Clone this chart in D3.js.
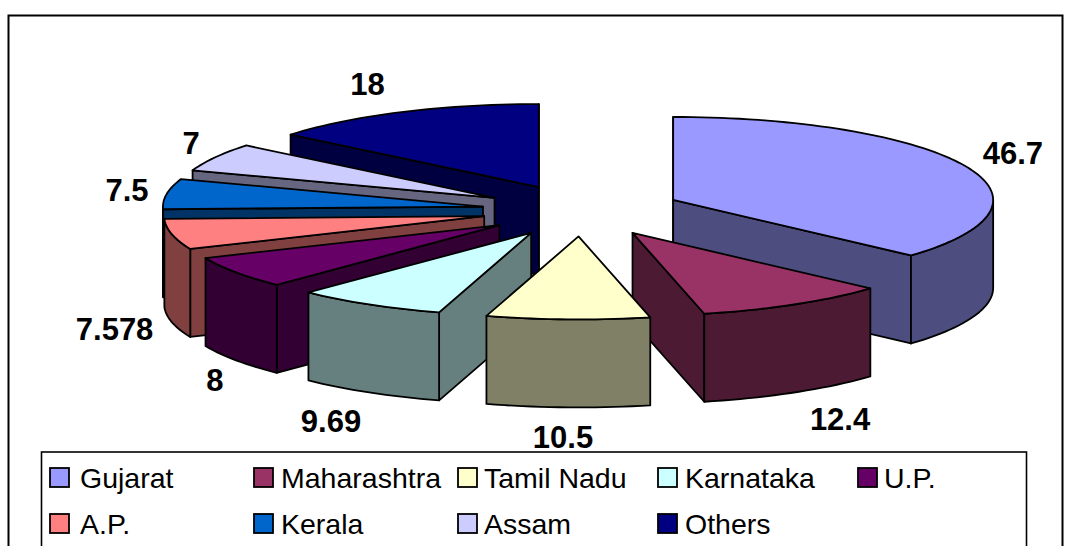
<!DOCTYPE html>
<html><head><meta charset="utf-8">
<script src="https://cdn.jsdelivr.net/npm/d3@7"></script>
<style>html,body{margin:0;padding:0;background:#fff;overflow:hidden}svg{display:block}text{font-family:"Liberation Sans",Arial,sans-serif;fill:#000}</style>
</head><body><svg id="c" width="1074" height="546"></svg>
<script>
const categories=["Gujarat","Maharashtra","Tamil Nadu","Karnataka","U.P.","A.P.","Kerala","Assam","Others"];
const values=[46.7,12.4,10.5,9.69,8,7.578,7.5,7,18];
const valueLabels=["46.7","12.4","10.5","9.69","8","7.578","7.5","7","18"];
const topColors=["#9999FF","#993366","#FFFFCC","#CCFFFF","#660066","#FF8080","#0066CC","#CCCCFF","#000080"];
const wallColors=["#4D4D80","#4D1A33","#808066","#668080","#330033","#804040","#003366","#666680","#000040"];
const drawOrder=[8,7,6,0,5,4,1,3,2];
const labelNudges=[[20,4],[30,27.5],[-4,28.5],[-23,29.5],[3.5,24.5],[-28,16.5],[-10,10],[2,3.5],[-21,-4.5]];
const legendCols=[50,254,458,658,858], legendRows=[468,514], legendTextCols=[80,281,484,685,884];

const cx=581.8,cy=210.5,rx=320,ry=83,depth=88,explode=100,tilt=ry/rx;
const svg=d3.select("#c");
svg.append("rect").attr("x",8.5).attr("y",15.5).attr("width",1054).attr("height",560).attr("fill","#fff").attr("stroke","#000").attr("stroke-width",2);

const arcs=d3.pie().sort(null).startAngle(0).endAngle(2*Math.PI)(values);
const line=d3.line();
const pt=(a,r,ox,oy,dz=0)=>[ox+Math.sin(a)*r,oy-Math.cos(a)*r*tilt+dz];
const g=svg.append("g").attr("stroke","#000").attr("stroke-width",1.8).attr("stroke-linejoin","round");
function arcPts(a0,a1,ox,oy,dz){
  const n=Math.max(2,Math.ceil((a1-a0)/0.03));
  return d3.range(n+1).map(i=>pt(a0+(a1-a0)*i/n,rx,ox,oy,dz));
}
drawOrder.forEach(i=>{
  const d=arcs[i],mid=(d.startAngle+d.endAngle)/2;
  const ox=cx+Math.sin(mid)*explode, oy=cy-Math.cos(mid)*explode*tilt;
  const wall=(a)=>{
    const p=pt(a,rx,ox,oy);
    g.append("path").attr("d",line([[ox,oy],p,[p[0],p[1]+depth],[ox,oy+depth]])+"Z").attr("fill",wallColors[i]);
  };
  const eps=1e-6;
  if(Math.sin(d.startAngle)<=eps) wall(d.startAngle);
  if(Math.sin(d.endAngle)>=-eps) wall(d.endAngle);
  const lo=Math.max(d.startAngle,Math.PI/2), hi=Math.min(d.endAngle,Math.PI*1.5);
  if(hi>lo){
    const t=arcPts(lo,hi,ox,oy,0), b=arcPts(lo,hi,ox,oy,depth).reverse();
    g.append("path").attr("d",line(t.concat(b))+"Z").attr("fill",wallColors[i]);
  }
  g.append("path").attr("d",line([[ox,oy]].concat(arcPts(d.startAngle,d.endAngle,ox,oy,0)))+"Z").attr("fill",topColors[i]);
});

// value labels
const X=450,Y=122.6;
arcs.forEach((d,i)=>{
  const m=(d.startAngle+d.endAngle)/2;
  const x=cx+Math.sin(m)*X+labelNudges[i][0];
  const y=210-Math.cos(m)*Y+(Math.cos(m)<0?87:0)+labelNudges[i][1];
  svg.append("text").attr("x",x).attr("y",y).attr("text-anchor","middle").attr("font-size",31).attr("font-weight","bold").text(valueLabels[i]);
});

// legend
svg.append("rect").attr("x",41.5).attr("y",452).attr("width",985).attr("height",120).attr("fill","none").attr("stroke","#000").attr("stroke-width",1.6);
categories.forEach((c,i)=>{
  const col=i<5?i:i-5,row=i<5?0:1;
  const x=legendCols[col],y=legendRows[row];
  svg.append("rect").attr("x",x).attr("y",y).attr("width",19).attr("height",19).attr("fill",topColors[i]).attr("stroke","#000").attr("stroke-width",1.8);
  svg.append("text").attr("x",legendTextCols[col]).attr("y",y+20).attr("font-size",28.5).text(c);
});
</script></body></html>
